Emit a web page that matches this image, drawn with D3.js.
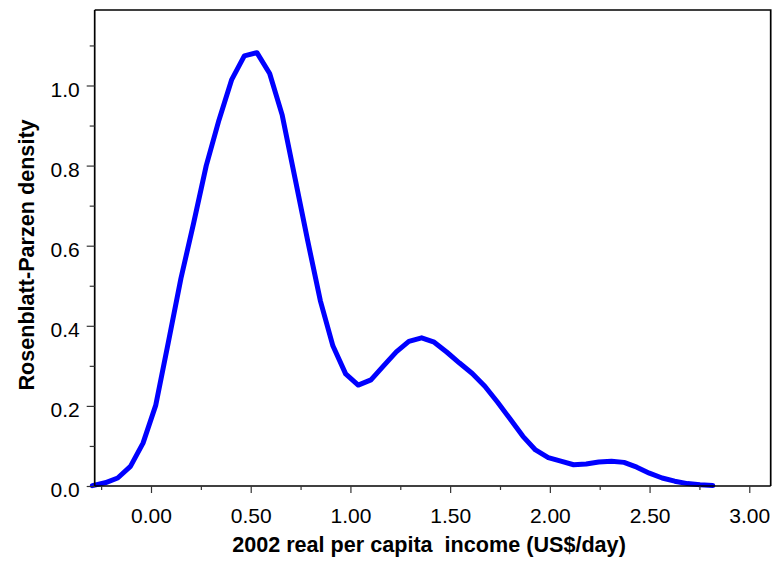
<!DOCTYPE html>
<html>
<head>
<meta charset="utf-8">
<script src="https://cdn.jsdelivr.net/npm/d3@7"></script>
<style>
  html, body { margin: 0; padding: 0; background: #fff; }
  svg { display: block; }
  text { font-family: "Liberation Sans", Arial, sans-serif; fill: #000; }
</style>
</head>
<body>
<svg id="chart" width="775" height="569"></svg>
<script>
// ---- data ----
const incomeX = [
  -0.294, -0.230, -0.167, -0.103, -0.040, 0.024, 0.087, 0.150, 0.214, 0.277,
  0.341, 0.404, 0.468, 0.531, 0.595, 0.658, 0.722, 0.785, 0.849, 0.912,
  0.976, 1.039, 1.103, 1.166, 1.230, 1.293, 1.357, 1.420, 1.484, 1.547,
  1.611, 1.674, 1.738, 1.801, 1.865, 1.928, 1.992, 2.055, 2.119, 2.182,
  2.245, 2.309, 2.372, 2.436, 2.499, 2.563, 2.626, 2.690, 2.753, 2.817
];
const densityY = [
  0.001, 0.008, 0.020, 0.049, 0.107, 0.202, 0.359, 0.518, 0.657, 0.800,
  0.914, 1.014, 1.074, 1.082, 1.030, 0.926, 0.769, 0.614, 0.463, 0.350,
  0.280, 0.252, 0.265, 0.300, 0.335, 0.361, 0.370, 0.359, 0.334, 0.307,
  0.281, 0.249, 0.209, 0.167, 0.124, 0.090, 0.071, 0.062, 0.053, 0.055,
  0.060, 0.062, 0.059, 0.047, 0.032, 0.020, 0.012, 0.006, 0.003, 0.001
];
const xMajorTicks = [0, 0.5, 1.0, 1.5, 2.0, 2.5, 3.0];
const xMinorTicks = [-0.25, 0.25, 0.75, 1.25, 1.75, 2.25, 2.75];
const yMajorTicks = [0, 0.2, 0.4, 0.6, 0.8, 1.0];
const yMinorTicks = [0.1, 0.3, 0.5, 0.7, 0.9, 1.1];
const xTitle = "2002 real per capita\u00A0 income (US$/day)";
const yTitle = "Rosenblatt-Parzen density";

// ---- layout ----
const pLeft = 94.7, pRight = 770.7, pTop = 10, pBottom = 486;
const svg = d3.select("#chart");

const x = d3.scaleLinear().domain([-0.2823, 3.1074]).range([pLeft, pRight]);
const y = d3.scaleLinear().domain([0, 1.1885]).range([pBottom, pTop]);

// frame (top and right)
svg.append("path")
  .attr("d", `M${pLeft},${pTop}H${pRight}V${pBottom}`)
  .attr("fill", "none").attr("stroke", "#000").attr("stroke-width", 1.7);

// curve
const line = d3.line().x((d, i) => x(incomeX[i])).y(d => y(d));
svg.append("path")
  .datum(densityY)
  .attr("d", line)
  .attr("fill", "none")
  .attr("stroke", "#0000ff")
  .attr("stroke-width", 5)
  .attr("stroke-linejoin", "round")
  .attr("stroke-linecap", "round");

// x axis major
const gx = svg.append("g").attr("transform", `translate(0,${pBottom})`)
  .call(d3.axisBottom(x).tickValues(xMajorTicks).tickFormat(d3.format(".2f"))
        .tickSize(7).tickSizeOuter(0).tickPadding(15));
// x axis minor
const gxm = svg.append("g").attr("transform", `translate(0,${pBottom})`)
  .call(d3.axisBottom(x).tickValues(xMinorTicks).tickFormat("")
        .tickSize(4).tickSizeOuter(0));
gxm.select(".domain").remove();

// y axis major
const gy = svg.append("g").attr("transform", `translate(${pLeft},0)`)
  .call(d3.axisLeft(y).tickValues(yMajorTicks).tickFormat(d3.format(".1f"))
        .tickSize(8).tickSizeOuter(0).tickPadding(7));
const gym = svg.append("g").attr("transform", `translate(${pLeft},0)`)
  .call(d3.axisLeft(y).tickValues(yMinorTicks).tickFormat("")
        .tickSize(5).tickSizeOuter(0));
gym.select(".domain").remove();

// axis lines span the full plot
gy.select(".domain").attr("d", `M0,${pTop}V${pBottom}`);
gx.select(".domain").attr("d", `M${pLeft},0H${pRight}`);

svg.selectAll(".domain").attr("stroke", "#000").attr("stroke-width", 1.7);
svg.selectAll(".tick line").attr("stroke", "#333").attr("stroke-width", 1.2);

gx.selectAll(".tick text")
  .attr("font-size", 21).attr("font-family", "Liberation Sans, Arial, sans-serif")
  .attr("dy", null).attr("y", 37.3);
gy.selectAll(".tick text")
  .attr("font-size", 21).attr("font-family", "Liberation Sans, Arial, sans-serif")
  .attr("dy", null).attr("y", 10.7);

// titles
svg.append("text")
  .attr("x", 429).attr("y", 552)
  .attr("text-anchor", "middle")
  .attr("font-size", 21.6).attr("font-weight", "bold")
  .text(xTitle);

svg.append("text")
  .attr("transform", "translate(33.5,255) rotate(-90)")
  .attr("text-anchor", "middle")
  .attr("font-size", 21.6).attr("font-weight", "bold")
  .text(yTitle);
</script>
</body>
</html>
